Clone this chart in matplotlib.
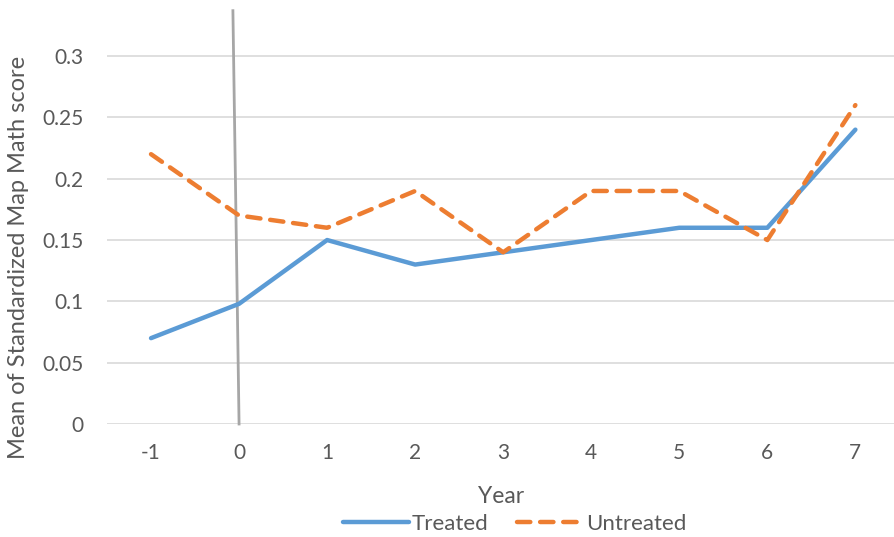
import matplotlib
matplotlib.use('agg')
from matplotlib import pyplot as plt

years = [-1, 0, 1, 2, 3, 4, 5, 6, 7]
treated = [0.07, 0.098, 0.15, 0.13, 0.14, 0.15, 0.16, 0.16, 0.24]
untreated = [0.22, 0.17, 0.16, 0.19, 0.14, 0.19, 0.19, 0.15, 0.26]
yticks = [0, 0.05, 0.1, 0.15, 0.2, 0.25, 0.3]
ytick_labels = ['0', '0.05', '0.1', '0.15', '0.2', '0.25', '0.3']

plt.rcParams['font.family'] = ['Lato', 'DejaVu Sans']
text_col = '#595959'

fig = plt.figure(figsize=(8.95, 5.37), dpi=100)
ax = fig.add_axes([107 / 895, 113 / 537, 788 / 895, 417 / 537])

x = list(range(len(years)))
ax.plot(x, treated, color='#5B9BD5', lw=3.2, solid_capstyle='round', label='Treated', zorder=3)
ax.plot(x, untreated, color='#ED7D31', lw=3.2, dashes=(3, 2.2), dash_capstyle='round',
        label='Untreated', zorder=3)

# treatment marker line at year 0
ax.plot([0.93, 1.0], [0.337, 0.0], color='#A6A6A6', lw=2, clip_on=False, zorder=2)

ax.set_xlim(-0.5, len(years) - 0.55)
ax.set_ylim(0, 0.34)
ax.set_xticks(x)
ax.set_xticklabels([str(y) for y in years])
ax.set_yticks(yticks)
ax.set_yticklabels(ytick_labels)
ax.grid(axis='y', color='#D9D9D9', lw=1.2)
ax.set_axisbelow(True)
for s in ax.spines.values():
    s.set_visible(False)
ax.tick_params(length=0, labelsize=15, colors=text_col)
ax.tick_params(axis='x', pad=14)
ax.tick_params(axis='y', pad=17)

ax.set_xlabel('Year', fontsize=16.5, color=text_col, labelpad=16)
ax.set_ylabel('Mean of Standardized Map Math score', fontsize=17, color=text_col)
ax.yaxis.set_label_coords(-0.099, 0.40)

fig.legend(loc='center', bbox_to_anchor=(0.575, 0.024), ncol=2, frameon=False,
           fontsize=16, labelcolor=text_col, handlelength=3.0, handletextpad=0.1,
           columnspacing=1.3)

plt.savefig('out.png', dpi=100)
plt.close()
